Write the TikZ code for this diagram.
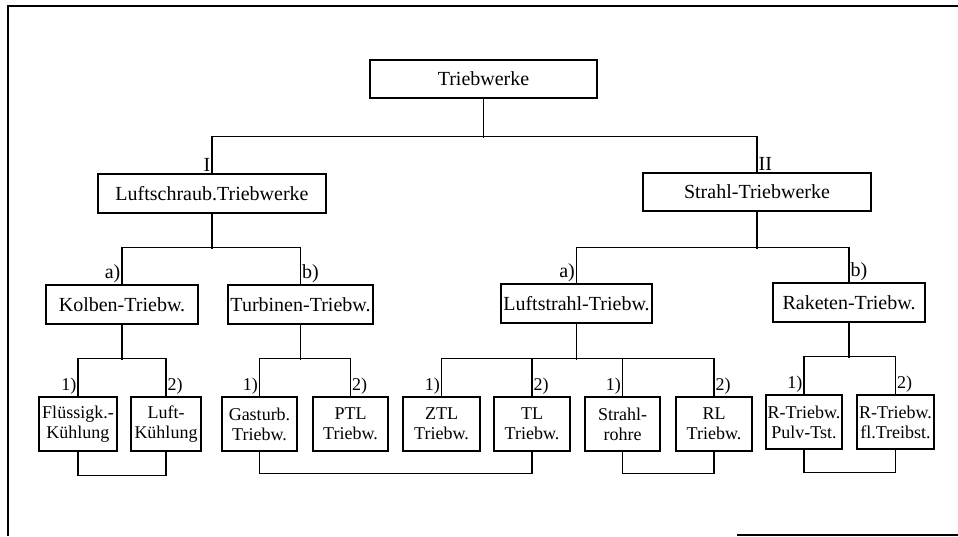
\documentclass[tikz,border=0pt]{standalone}
\usepackage{fontspec}
\setmainfont{Liberation Serif}
\usetikzlibrary{positioning}

\tikzset{
  box/.style={draw, line width=1.2pt, inner sep=0pt, align=center, font=\fontsize{20}{22}\selectfont},
  smallbox/.style={box, minimum height=54pt, font=\fontsize{18}{20}\selectfont},
  lab/.style={inner sep=1.5pt, font=\fontsize{20}{22}\selectfont},
  nlab/.style={inner sep=1.5pt, font=\fontsize{18}{20}\selectfont},
  conn/.style={line width=1.2pt}
}

\begin{document}
\begin{tikzpicture}[x=1pt, y=1pt]
\useasboundingbox (0,0) rectangle (958,-536);
\draw[conn] (8,-536) -- (8,-6) -- (958,-6);
\draw[conn] (737,-535) -- (958,-535);
\node[box, minimum width=227pt, minimum height=38pt] (trw) at (483.5,-79) {Triebwerke};
\node[box, minimum width=228pt, minimum height=39pt] (lsw) at (212,-193.5) {Luftschraub.Triebwerke};
\node[box, minimum width=228pt, minimum height=38pt] (stw) at (757,-192) {Strahl-Triebwerke};
\node[box, minimum width=152pt, minimum height=39pt] (kol) at (122,-304.5) {Kolben-Triebw.};
\node[box, minimum width=145pt, minimum height=39pt] (tur) at (300.5,-304.5) {Turbinen-Triebw.};
\node[box, minimum width=151pt, minimum height=39pt] (lst) at (576.5,-303.5) {Luftstrahl-Triebw.};
\node[box, minimum width=152pt, minimum height=39pt] (rak) at (849,-302.5) {Raketen-Triebw.};
\node[smallbox, minimum width=78pt] (flu) at (78,-424) {Flüssigk.-\\Kühlung};
\node[smallbox, minimum width=70pt] (luk) at (166,-424) {Luft-\\Kühlung};
\node[smallbox, minimum width=75pt] (gas) at (259.5,-424) {Gasturb.\\Triebw.};
\node[smallbox, minimum width=75pt] (ptl) at (350.5,-424) {PTL\\Triebw.};
\node[smallbox, minimum width=77pt] (ztl) at (441.5,-424) {ZTL\\Triebw.};
\node[smallbox, minimum width=76pt] (tl) at (532,-424) {TL\\Triebw.};
\node[smallbox, minimum width=75pt] (str) at (622.5,-424) {Strahl-\\rohre};
\node[smallbox, minimum width=76pt] (rl) at (714,-424) {RL\\Triebw.};
\node[smallbox, minimum width=76pt] (rp) at (804,-422) {R-Triebw.\\Pulv-Tst.};
\node[smallbox, minimum width=77pt] (rf) at (895.5,-422) {R-Triebw.\\fl.Treibst.};
\draw[conn] (trw.south) -- ++(0,-39);
\draw[conn] (lsw.north) -- ++(0,37) -| (stw.north);
\draw[conn] (lsw.south) -- ++(0,-35);
\draw[conn] (kol.north) -- ++(0,37) -| (tur.north);
\draw[conn] (stw.south) -- ++(0,-37);
\draw[conn] (lst.north) -- ++(0,36) -| (rak.north);
\draw[conn] (kol.south) -- ++(0,-35);
\draw[conn] (flu.north) -- ++(0,38) -| (luk.north);
\draw[conn] (tur.south) -- ++(0,-35);
\draw[conn] (gas.north) -- ++(0,38) -| (ptl.north);
\draw[conn] (lst.south) -- ++(0,-36);
\draw[conn] (ztl.north) -- ++(0,38) -| (rl.north);
\draw[conn] (tl.north) -- ++(0,38);
\draw[conn] (str.north) -- ++(0,38);
\draw[conn] (rak.south) -- ++(0,-35);
\draw[conn] (rp.north) -- ++(0,38) -| (rf.north);
\draw[conn] (flu.south) -- ++(0,-24) -| (luk.south);
\draw[conn] (gas.south) -- ++(0,-22) -| (tl.south);
\draw[conn] (str.south) -- ++(0,-22) -| (rl.south);
\draw[conn] (rp.south) -- ++(0,-23) -| (rf.south);
\node[lab, anchor=south east] (lI) at (lsw.north) {I};
\node[lab, anchor=south west] (lII) at (stw.north) {II};
\node[lab, anchor=south east] (la1) at (kol.north) {a)};
\node[lab, anchor=south west] (lb1) at (tur.north) {b)};
\node[lab, anchor=south east] (la2) at (lst.north) {a)};
\node[lab, anchor=south west] (lb2) at (rak.north) {b)};
\node[nlab, anchor=south east] (n1a) at (flu.north) {1)};
\node[nlab, anchor=south west] (n2a) at (luk.north) {2)};
\node[nlab, anchor=south east] (n1b) at (gas.north) {1)};
\node[nlab, anchor=south west] (n2b) at (ptl.north) {2)};
\node[nlab, anchor=south east] (n1c) at (ztl.north) {1)};
\node[nlab, anchor=south west] (n2c) at (tl.north) {2)};
\node[nlab, anchor=south east] (n1d) at (str.north) {1)};
\node[nlab, anchor=south west] (n2d) at (rl.north) {2)};
\node[nlab, anchor=south east] (n1e) at (rp.north) {1)};
\node[nlab, anchor=south west] (n2e) at (rf.north) {2)};
\end{tikzpicture}
\end{document}
